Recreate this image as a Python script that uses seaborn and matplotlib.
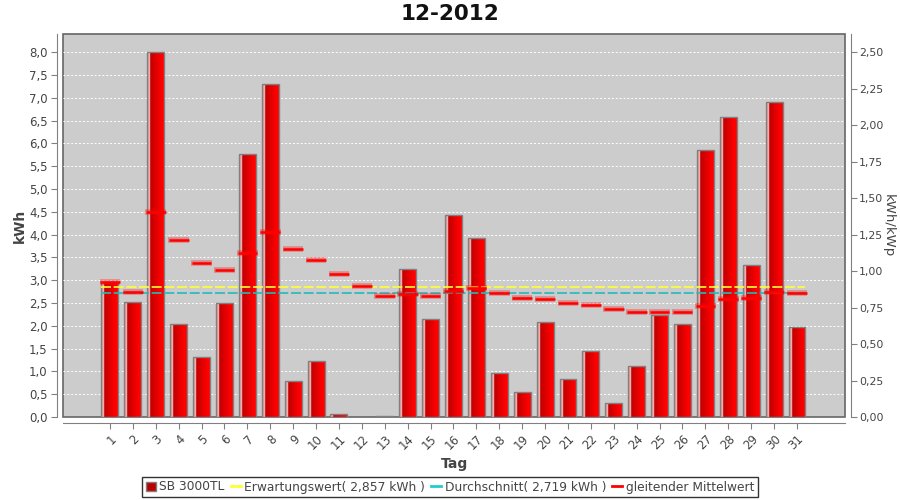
import numpy as np
import pandas as pd
import matplotlib
matplotlib.use("Agg")
import matplotlib.pyplot as plt
import seaborn as sns
from matplotlib.patches import Patch
from matplotlib.lines import Line2D
from matplotlib.ticker import FuncFormatter, MultipleLocator

# ---- data ----
days = [str(d) for d in range(1, 32)]
kwh = [2.97, 2.53, 8.00, 2.05, 1.31, 2.49, 5.76, 7.30, 0.80, 1.22, 0.06, 0.00,
       0.02, 3.24, 2.16, 4.42, 3.92, 0.96, 0.54, 2.08, 0.83, 1.44, 0.30, 1.11,
       2.23, 2.03, 5.85, 6.59, 3.33, 6.90, 1.97]
moving_avg = [2.97, 2.75, 4.50, 3.89, 3.37, 3.23, 3.59, 4.05, 3.69, 3.44, 3.14,
              2.87, 2.65, 2.70, 2.66, 2.77, 2.84, 2.73, 2.62, 2.59, 2.51, 2.46,
              2.37, 2.31, 2.31, 2.30, 2.43, 2.58, 2.60, 2.75, 2.72]
expected = 2.857
average = 2.719
kwp = 3.2
title = "12-2012"
series_name = "SB 3000TL"

df = pd.DataFrame({"Tag": days, "kWh": kwh})

plt.rcParams["font.family"] = ["DejaVu Sans"]
fig = plt.figure(figsize=(9, 5), dpi=100)
ax = fig.add_axes([0.070, 0.166, 0.869, 0.766])

bar_w = 0.74
sns.barplot(data=df, x="Tag", y="kWh", order=days, color="#dd0000",
            width=bar_w, edgecolor="#808080", linewidth=1.0, ax=ax,
            saturation=1, zorder=3)

# gradient fill for each bar
n = 200
t = np.linspace(0, 1, n)
grad = np.zeros((1, n, 3))
dark = np.array([0.68, 0.0, 0.0])
bright = np.array([1.0, 0.0, 0.0])
for i, tt in enumerate(t):
    c = dark + (bright - dark) * min(1.0, tt / 0.85)
    if tt < 0.10:
        c = np.array([0.85, 0.45, 0.45])
    elif tt < 0.17:
        c = np.array([1.0, 0.97, 0.97])
    grad[0, i] = c
for p in list(ax.patches):
    x0, y0 = p.get_x(), p.get_y()
    w, h = p.get_width(), p.get_height()
    if h <= 0:
        continue
    im = ax.imshow(grad, extent=[x0, x0 + w, y0, y0 + h], aspect="auto",
                   zorder=2.5, interpolation="bicubic")
    im.set_clip_path(p)
    p.set_facecolor("none")

ymax = 8.4
ax.set_xlim(-2.05, 32.1)
ax.set_ylim(0, ymax)

# expectation / average lines
ax.hlines(expected, 0 - bar_w / 2, len(days) - 1 + bar_w / 2, colors="#ffff33",
          linewidth=1.2, linestyles=(0, (6, 1.6)), zorder=4)
ax.hlines(average, 0 - bar_w / 2, len(days) - 1 + bar_w / 2, colors="#22bbbb",
          linewidth=1.2, linestyles=(0, (6, 1.6)), zorder=4)

# moving average dashes
xs = np.arange(len(days))
ax.hlines(moving_avg, xs - 0.45, xs + 0.45, colors="#ff0000", linewidth=4.0,
          alpha=0.35, zorder=5)
ax.hlines(moving_avg, xs - 0.43, xs + 0.43, colors="#ff0000", linewidth=1.8,
          zorder=6)

# styling
ax.set_facecolor("#cccccc")
ax.patch.set_edgecolor("#666666")
ax.patch.set_linewidth(1.2)
ax.yaxis.set_major_locator(MultipleLocator(0.5))
ax.yaxis.set_major_formatter(FuncFormatter(lambda v, _: f"{v:.1f}".replace(".", ",")))
ax.grid(axis="y", color="white", linestyle=(0, (2, 2)), linewidth=0.7, zorder=1)
ax.set_axisbelow(True)
ax.grid(axis="x", visible=False)
for s in ["top", "right"]:
    ax.spines[s].set_visible(False)
for s in ["left", "bottom"]:
    ax.spines[s].set_position(("outward", 4))
    ax.spines[s].set_color("#808080")
ax.tick_params(axis="both", colors="#808080", labelcolor="#444444", length=4,
               labelsize=8.5, pad=3)
for lbl in ax.get_xticklabels():
    lbl.set_rotation(45)
    lbl.set_ha("right")
    lbl.set_rotation_mode("anchor")
ax.set_xlabel("Tag", fontsize=10, fontweight="bold", color="#444444")
ax.xaxis.set_label_coords(0.5, -0.105)
ax.set_ylabel("kWh", fontsize=10, fontweight="bold", color="#444444")
ax.yaxis.set_label_coords(-0.046, 0.5)

ax2 = ax.twinx()
ax2.set_ylim(0, ymax / kwp)
ax2.yaxis.set_major_locator(MultipleLocator(0.25))
ax2.yaxis.set_major_formatter(FuncFormatter(lambda v, _: f"{v:.2f}".replace(".", ",")))
for s in ["top", "left", "bottom"]:
    ax2.spines[s].set_visible(False)
ax2.spines["right"].set_position(("outward", 4))
ax2.spines["right"].set_color("#808080")
ax2.tick_params(axis="y", colors="#808080", labelcolor="#444444", length=4,
                labelsize=7.8, pad=2)
ax2.set_ylabel("kWh/kWp", fontsize=9.5, color="#444444", rotation=270,
               va="center")
ax2.yaxis.set_label_coords(1.055, 0.5)
ax2.grid(False)

fig.text(0.5, 0.972, title, ha="center", va="center", fontsize=15.5,
         fontweight="bold", color="#111111")

handles = [
    Patch(facecolor="#bb0000", edgecolor="#808080", label=series_name),
    Line2D([0], [0], color="#ffff33", lw=2,
           label=f"Erwartungswert( {expected:.3f} kWh )".replace(".", ",")),
    Line2D([0], [0], color="#22cccc", lw=2,
           label=f"Durchschnitt( {average:.3f} kWh )".replace(".", ",")),
    Line2D([0], [0], color="#ff0000", lw=2, label="gleitender Mittelwert"),
]
leg = fig.legend(handles=handles, loc="center", bbox_to_anchor=(0.5, 0.026),
                 ncol=4, frameon=True, fontsize=8.8, handlelength=0.8,
                 handleheight=0.8, handletextpad=0.3, columnspacing=0.5,
                 borderpad=0.3, fancybox=False, labelcolor="#444444")
leg.get_frame().set_edgecolor("black")
leg.get_frame().set_linewidth(1.0)

fig.savefig("out.png", dpi=100, facecolor="white")
